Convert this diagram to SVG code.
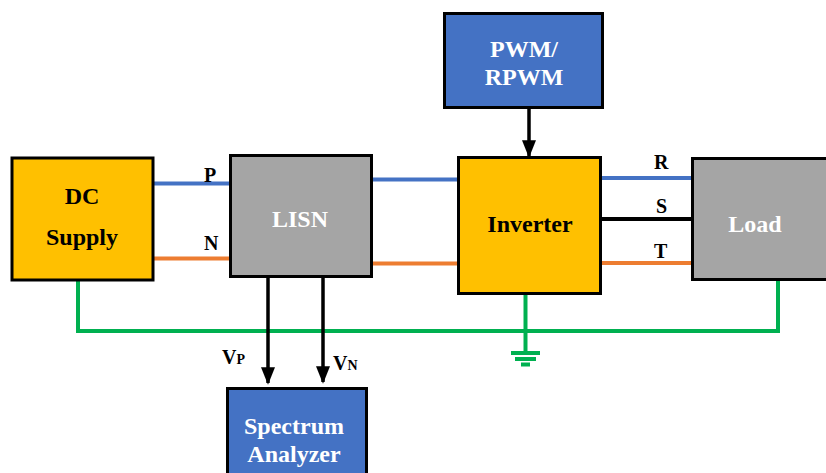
<svg xmlns="http://www.w3.org/2000/svg" width="826" height="473" viewBox="0 0 826 473">
<style>
.box{stroke:#000;stroke-width:3}
.y{fill:#FFC000}.g{fill:#A5A5A5}.b{fill:#4472C4}
.t{font-family:'Liberation Serif','Times New Roman',Times,serif;font-weight:bold;font-size:24px;text-anchor:middle}
.w{fill:#fff}.k{fill:#000}
.lbl{font-family:'Liberation Serif','Times New Roman',Times,serif;font-weight:bold;font-size:20px;fill:#000}
.gr{stroke:#00B050;stroke-width:4;fill:none}
</style>
<defs>
<marker id="ah" markerWidth="5" markerHeight="4" refX="4.5" refY="2" orient="auto" markerUnits="strokeWidth">
<path d="M0,0 L5,2 L0,4 Z" fill="#000"/>
</marker>
</defs>
<g id="connectors">
<line x1="153" y1="183.5" x2="230" y2="183.5" stroke="#4472C4" stroke-width="4"/>
<line x1="153" y1="258.5" x2="230" y2="258.5" stroke="#ED7D31" stroke-width="4"/>
<line x1="372" y1="179.5" x2="458" y2="179.5" stroke="#4472C4" stroke-width="4"/>
<line x1="372" y1="263.5" x2="458" y2="263.5" stroke="#ED7D31" stroke-width="4"/>
<line x1="601" y1="178" x2="692" y2="178" stroke="#4472C4" stroke-width="4"/>
<line x1="601" y1="219" x2="692" y2="219" stroke="#000" stroke-width="4"/>
<line x1="601" y1="263" x2="692" y2="263" stroke="#ED7D31" stroke-width="4"/>
<path class="gr" d="M78,280 V331 H778 V280"/>
<line class="gr" x1="525.5" y1="294" x2="525.5" y2="352"/>
<line class="gr" x1="511" y1="353" x2="540" y2="353"/>
<line class="gr" x1="515" y1="359" x2="536" y2="359"/>
<line class="gr" x1="521" y1="364.5" x2="530" y2="364.5"/>
<line x1="529" y1="108" x2="529" y2="156" stroke="#000" stroke-width="3.5" marker-end="url(#ah)"/>
<line x1="268" y1="277" x2="268" y2="383" stroke="#000" stroke-width="3.5" marker-end="url(#ah)"/>
<line x1="323" y1="277" x2="323" y2="382" stroke="#000" stroke-width="3.5" marker-end="url(#ah)"/>
<text class="lbl" x="204" y="182">P</text>
<text class="lbl" x="204" y="250">N</text>
<text class="lbl" x="654" y="169">R</text>
<text class="lbl" x="656" y="213">S</text>
<text class="lbl" x="654" y="258">T</text>
<text class="lbl" x="222" y="364">V<tspan font-size="14">P</tspan></text>
<text class="lbl" x="333" y="370">V<tspan font-size="14">N</tspan></text>
</g>
<g id="dc-supply">
<rect class="box y" x="12" y="158" width="141" height="122"/>
<text class="t k" x="82" y="204">DC</text>
<text class="t k" x="82" y="245">Supply</text>
</g>
<g id="lisn">
<rect class="box g" x="230.5" y="155.5" width="141" height="121"/>
<text class="t w" x="300" y="227">LISN</text>
</g>
<g id="inverter">
<rect class="box y" x="458.5" y="157.5" width="142" height="136"/>
<text class="t k" x="530" y="232">Inverter</text>
</g>
<g id="pwm">
<rect class="box b" x="444.5" y="13.5" width="158" height="94"/>
<text class="t w" x="524" y="57">PWM/</text>
<text class="t w" x="524" y="85">RPWM</text>
</g>
<g id="load">
<rect class="box g" x="692.5" y="158.5" width="140" height="121"/>
<text class="t w" x="755" y="232">Load</text>
</g>
<g id="spectrum-analyzer">
<rect class="box b" x="227.5" y="388.5" width="139" height="90"/>
<text class="t w" x="294" y="434">Spectrum</text>
<text class="t w" x="294" y="462">Analyzer</text>
</g>
</svg>
